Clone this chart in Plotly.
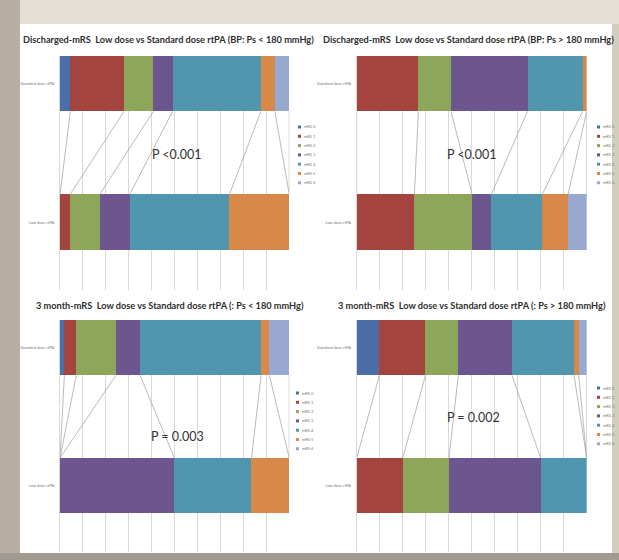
import itertools
import plotly.graph_objects as go

W, H = 619, 560

# ---------------- data (percent of patients per mRS grade) ----------------
mrs_labels = ["mRS 0", "mRS 1", "mRS 2", "mRS 3", "mRS 4", "mRS 5", "mRS 6"]
categories = ["Standard dose rtPA", "Low dose rtPA"]

discharged_lt180_standard = [4.5, 23.4, 12.8, 8.4, 38.5, 6.1, 6.3]
discharged_lt180_low = [0.0, 4.4, 12.9, 13.1, 43.5, 26.1, 0.0]

discharged_gt180_standard = [0.0, 26.8, 14.2, 33.3, 23.9, 1.8, 0.0]
discharged_gt180_low = [0.0, 25.1, 25.1, 8.3, 22.2, 11.2, 8.1]

month3_lt180_standard = [1.9, 5.2, 17.3, 10.5, 52.8, 3.6, 8.7]
month3_lt180_low = [0.0, 0.0, 0.0, 49.9, 33.6, 16.5, 0.0]

month3_gt180_standard = [9.9, 20.0, 14.3, 23.3, 27.0, 2.0, 3.5]
month3_gt180_low = [0.0, 20.0, 20.1, 39.9, 20.0, 0.0, 0.0]

titles = [
    "Discharged-mRS  Low dose vs Standard dose rtPA (BP: Ps < 180 mmHg)",
    "Discharged-mRS  Low dose vs Standard dose rtPA (BP: Ps > 180 mmHg)",
    "3 month-mRS  Low dose vs Standard dose rtPA (: Ps < 180 mmHg)",
    "3 month-mRS  Low dose vs Standard dose rtPA (: Ps > 180 mmHg)",
]
p_values = ["P <0.001", "P <0.001", "P = 0.003", "P = 0.002"]

# ---------------- styles ----------------
FONT = "Lato, 'Open Sans', sans-serif"
colors = ["#4a6fa8", "#a4443f", "#8da65a", "#6d5690", "#4f96ae", "#d8894a", "#97a9d0"]
BAR_W = 0.4

panels = [
    dict(std=discharged_lt180_standard, low=discharged_lt180_low,
         xd=(60, 289.3), yd=(56, 290), yr=(-0.49, 1.2),
         leg=(298, 127), title=(168, 40), p=(177, 154)),
    dict(std=discharged_gt180_standard, low=discharged_gt180_low,
         xd=(356.7, 586.7), yd=(56, 290), yr=(-0.49, 1.2),
         leg=(597, 127), title=(468, 40), p=(472, 154)),
    dict(std=month3_lt180_standard, low=month3_lt180_low,
         xd=(60, 289.3), yd=(320, 552), yr=(-0.48, 1.2),
         leg=(296, 393), title=(170, 305), p=(177, 436)),
    dict(std=month3_gt180_standard, low=month3_gt180_low,
         xd=(356.7, 586.7), yd=(320, 552), yr=(-0.48, 1.2),
         leg=(597, 388), title=(472, 305), p=(473, 417)),
]


def fx(px):
    return px / W


def fy(py):
    return 1 - py / H


fig = go.Figure()
layout = dict(
    width=W, height=H, margin=dict(l=0, r=0, t=0, b=0),
    paper_bgcolor="#d3ccc1", plot_bgcolor="rgba(0,0,0,0)",
    barmode="stack", showlegend=False,
    font=dict(family=FONT, color="#333333"),
)

shapes = [
    # slide frame
    dict(type="rect", xref="paper", yref="paper", x0=0, x1=1, y0=fy(24), y1=1,
         fillcolor="#e4dfd7", line_width=0, layer="below"),
    dict(type="rect", xref="paper", yref="paper", x0=0, x1=fx(20), y0=0, y1=1,
         fillcolor="#b7afa4", line_width=0, layer="below"),
    dict(type="rect", xref="paper", yref="paper", x0=0, x1=1, y0=0, y1=fy(553),
         fillcolor="#a09a90", line_width=0, layer="below"),
    dict(type="rect", xref="paper", yref="paper", x0=fx(20), x1=fx(612), y0=fy(553), y1=fy(24),
         fillcolor="#ffffff", line_width=0, layer="below"),
]
annotations = []

for i, pnl in enumerate(panels):
    sfx = "" if i == 0 else str(i + 1)
    xa, ya = "x" + sfx, "y" + sfx
    std, low = pnl["std"], pnl["low"]

    for k, lab in enumerate(mrs_labels):
        fig.add_trace(go.Bar(
            x=[std[k], low[k]], y=[1, 0], orientation="h", width=BAR_W,
            marker=dict(color=colors[k], line_width=0), name=lab,
            xaxis=xa, yaxis=ya, hoverinfo="x+name",
        ))

    # Excel style series lines connecting cumulative boundaries
    cs = list(itertools.accumulate(std))
    cl = list(itertools.accumulate(low))
    lx, ly = [], []
    for a, b in zip(cs, cl):
        lx += [a, b, None]
        ly += [1 - BAR_W / 2, 0 + BAR_W / 2, None]
    fig.add_trace(go.Scatter(x=lx, y=ly, mode="lines", xaxis=xa, yaxis=ya,
                             line=dict(color="#a8a8a8", width=0.8), hoverinfo="skip"))

    layout["xaxis" + sfx] = dict(
        domain=[fx(pnl["xd"][0]), fx(pnl["xd"][1])], range=[0, 100], dtick=10,
        showgrid=True, gridcolor="#d9d9d9", gridwidth=1, zeroline=False,
        showticklabels=False, ticks="", anchor=ya, fixedrange=True,
    )
    layout["yaxis" + sfx] = dict(
        domain=[fy(pnl["yd"][1]), fy(pnl["yd"][0])], range=list(pnl["yr"]),
        tickvals=[1, 0], ticktext=categories, ticks="", showgrid=False,
        zeroline=False, showline=True, linecolor="#d9d9d9", linewidth=1,
        tickfont=dict(size=4, color="#777777"), ticklabelstandoff=4,
        anchor=xa, fixedrange=True,
    )

    # title
    tx, ty = pnl["title"]
    annotations.append(dict(
        xref="paper", yref="paper", x=fx(tx), y=fy(ty), xanchor="center", yanchor="middle",
        text="<b>" + titles[i] + "</b>", showarrow=False,
        font=dict(size=9.2, color="#2e2e2e", family=FONT),
    ))
    # p value
    px_, py_ = pnl["p"]
    annotations.append(dict(
        xref="paper", yref="paper", x=fx(px_), y=fy(py_), xanchor="center", yanchor="middle",
        text=p_values[i], showarrow=False,
        font=dict(size=12.5, color="#333333", family=FONT),
    ))
    # small legend
    lgx, lgy = pnl["leg"]
    for k, lab in enumerate(mrs_labels):
        yy = lgy + 9.3 * k
        shapes.append(dict(type="rect", xref="paper", yref="paper",
                           x0=fx(lgx), x1=fx(lgx + 3), y0=fy(yy + 1.5), y1=fy(yy - 1.5),
                           fillcolor=colors[k], line_width=0))
        annotations.append(dict(
            xref="paper", yref="paper", x=fx(lgx + 4), y=fy(yy), xanchor="left",
            yanchor="middle", text=lab, showarrow=False,
            font=dict(size=4, color="#777777"),
        ))

layout["shapes"] = shapes
layout["annotations"] = annotations
fig.update_layout(**layout)

fig.write_html(
    "out.html",
    config={"displayModeBar": False},
    post_script="document.body.style.margin='0';document.body.style.padding='0';",
)
